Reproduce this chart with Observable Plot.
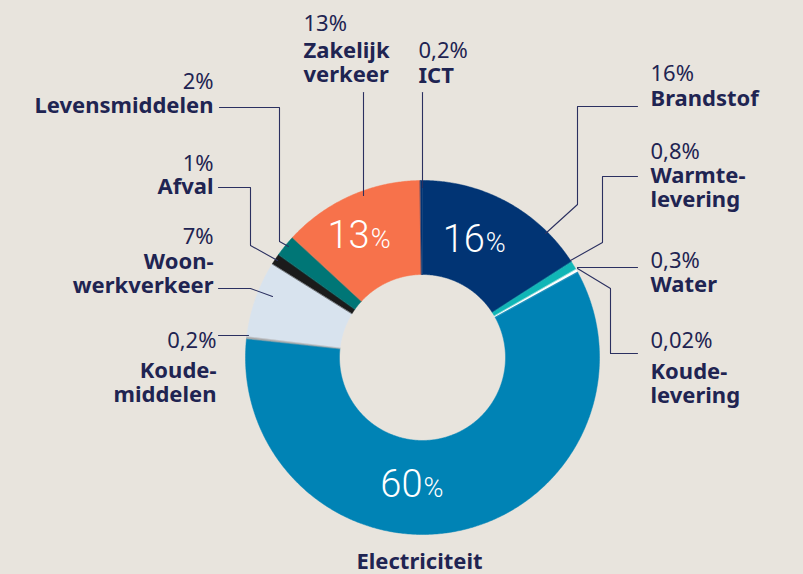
<!DOCTYPE html>
<html><head><meta charset="utf-8">
<script src="https://cdn.jsdelivr.net/npm/d3@7"></script>
<script src="https://cdn.jsdelivr.net/npm/@observablehq/plot@0.6"></script>
<style>
html,body{margin:0;padding:0;background:#e8e4dd;}
#chart{width:803px;height:574px;overflow:hidden;}
</style></head><body><div id="chart"></div>
<script>
// ---- data ----
const categories = ["Brandstof","Warmtelevering","Water","Koudelevering","Electriciteit","Koudemiddelen","Woon-werkverkeer","Afval","Levensmiddelen","Zakelijk verkeer","ICT"];
const shares = [16, 0.8, 0.3, 0.02, 60, 0.2, 7, 1, 2, 13, 0.2];
const shareLabels = ["16%","0,8%","0,3%","0,02%","60%","0,2%","7%","1%","2%","13%","0,2%"];
const nameLines = [["Brandstof"],["Warmte-","levering"],["Water"],["Koude-","levering"],["Electriciteit"],["Koude-","middelen"],["Woon-","werkverkeer"],["Afval"],["Levensmiddelen"],["Zakelijk","verkeer"],["ICT"]];
const sliceColors = ["#013474","#10b6b6","#ffffff","#0083b5","#0083b5","#a9a9a9","#d8e3ee","#1b1b1b","#007676","#f7724b","#013474"];
const innerLabelled = ["Brandstof","Electriciteit","Zakelijk verkeer"];

// ---- layout ----
const W = 803, H = 574, CX = 422, CY = 357, R_OUT = 177, R_IN = 83;
const FSV = 22, FSN = 22, LH = 24.5, TEXT = "#1f2452";
const FONT = "'Noto Sans', 'Open Sans', sans-serif", FONT_IN = "Roboto, 'Noto Sans', sans-serif";
const labelLayout = {
  "Brandstof":        {x:650, anchor:"start",  valueBase:80,  nameBase:105, leader:[[637,106],[577,106],[577,204],[545,233]]},
  "Warmtelevering":   {x:650, anchor:"start",  valueBase:158, nameBase:182, leader:[[637,176],[602,176],[602,242],[570,260]]},
  "Water":            {x:650, anchor:"start",  valueBase:267, nameBase:291, leader:[[637,267],[577,267]]},
  "Koudelevering":    {x:650, anchor:"start",  valueBase:347, nameBase:378, leader:[[577,268],[610,288],[610,353],[637,353]]},
  "Electriciteit":    {x:419, anchor:"middle", valueBase:null, nameBase:568, leader:null},
  "Koudemiddelen":    {x:216, anchor:"end",    valueBase:347, nameBase:377, leader:[[218,335],[248,335]]},
  "Woon-werkverkeer": {x:213, anchor:"end",    valueBase:243, nameBase:268, leader:[[218,288],[250,288],[272,296]]},
  "Afval":            {x:213, anchor:"end",    valueBase:170, nameBase:193, leader:[[218,187],[250,187],[250,245],[277,260]]},
  "Levensmiddelen":   {x:213, anchor:"end",    valueBase:88,  nameBase:112, leader:[[219,107],[279,107],[279,241],[288,246]]},
  "Zakelijk verkeer": {x:303, anchor:"start",  valueBase:30,  nameBase:57,  leader:[[363,92],[363,195]]},
  "ICT":              {x:418, anchor:"start",  valueBase:57,  nameBase:82,  leader:[[422,92],[422,187]]}
};
const innerAngleOverride = {"Electriciteit": Math.PI};

// ---- build ----
const rows = categories.map((name, i) => ({name, share: shares[i], label: shareLabels[i], lines: nameLines[i], color: sliceColors[i]}));
const arcs = d3.pie().sort(null).value(d => d.share).startAngle(0).endAngle(2 * Math.PI)(rows);
const polar = (a, r) => ({x: CX + r * Math.sin(a), y: CY - r * Math.cos(a)});

const slicePts = [];
arcs.forEach(a => {
  const n = Math.max(2, Math.ceil((a.endAngle - a.startAngle) / (Math.PI / 360)) + 1);
  const outer = d3.range(n).map(k => a.startAngle + (a.endAngle - a.startAngle) * k / (n - 1));
  outer.forEach(t => slicePts.push({name: a.data.name, color: a.data.color, ...polar(t, R_OUT)}));
  outer.slice().reverse().forEach(t => slicePts.push({name: a.data.name, color: a.data.color, ...polar(t, R_IN)}));
});

const leaderPts = [];
rows.forEach(r => {
  const L = labelLayout[r.name];
  if (L.leader) L.leader.forEach(([x, y]) => leaderPts.push({name: r.name, x, y}));
});

const valueTexts = [], nameTexts = [];
rows.forEach(r => {
  const L = labelLayout[r.name];
  if (L.valueBase != null) valueTexts.push({x: L.x, y: L.valueBase - 0.32 * FSV, text: r.label, anchor: L.anchor});
  r.lines.forEach((t, k) => nameTexts.push({x: L.x, y: L.nameBase + k * LH - 0.32 * FSN, text: t, anchor: L.anchor}));
});

const BIG = 38, PCT = 27;
const innerTexts = arcs.filter(a => innerLabelled.includes(a.data.name)).map(a => {
  const ang = innerAngleOverride[a.data.name] ?? (a.startAngle + a.endAngle) / 2;
  const p = polar(ang, (R_IN + R_OUT) / 2);
  return {x: p.x, base: p.y + 9, num: a.data.label.replace("%", ""), pct: "%"};
});

const textMarks = (data, opts) => ["start", "middle", "end"].map(anchor =>
  Plot.text(data.filter(d => d.anchor === anchor), {x: "x", y: "y", text: "text", textAnchor: anchor, fill: TEXT, fontFamily: FONT, lineAnchor: "middle", ...opts}));

const chart = Plot.plot({
  width: W, height: H, margin: 0,
  x: {domain: [0, W], range: [0, W], axis: null},
  y: {domain: [0, H], range: [0, H], axis: null},
  style: {background: "transparent", fontFamily: FONT},
  marks: [
    Plot.line(slicePts, {x: "x", y: "y", z: "name", fill: "color", stroke: "color", strokeWidth: 0.5, curve: "linear-closed"}),
    Plot.line(leaderPts, {x: "x", y: "y", z: "name", stroke: "#2b3060", strokeWidth: 1.1}),
    ...textMarks(valueTexts, {fontSize: FSV}),
    ...textMarks(nameTexts, {fontSize: FSN, fontWeight: "bold"}),
    Plot.text(innerTexts, {x: "x", y: d => d.base - 0.32 * BIG, text: "num", textAnchor: "end", fontSize: BIG, fontWeight: 300, fontFamily: FONT_IN, fill: "#ffffff", lineAnchor: "middle"}),
    Plot.text(innerTexts, {x: "x", y: d => d.base - 0.32 * PCT, text: "pct", textAnchor: "start", dx: 1, fontSize: PCT, fontWeight: 300, fontFamily: FONT_IN, fill: "#ffffff", lineAnchor: "middle"})
  ]
});
document.getElementById("chart").appendChild(chart);
</script>
</body></html>
